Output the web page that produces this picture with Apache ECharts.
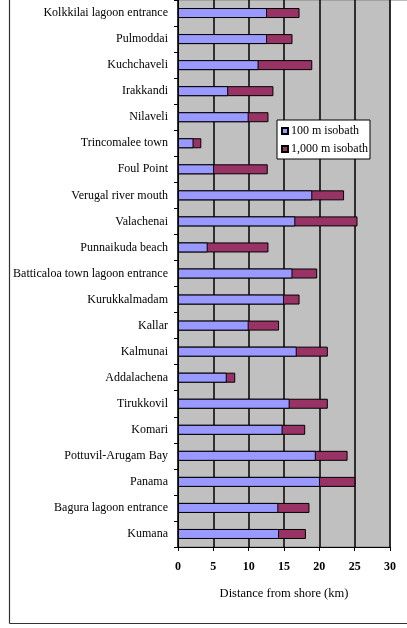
<!DOCTYPE html>
<html><head><meta charset="utf-8">
<script src="https://cdn.jsdelivr.net/npm/echarts@6/dist/echarts.min.js"></script>
<style>html,body{margin:0;padding:0;background:#fff}#c{width:407px;height:628px}</style>
</head><body><div id="c"></div>
<script>
const categories = ["Kolkkilai lagoon entrance","Pulmoddai","Kuchchaveli","Irakkandi","Nilaveli","Trincomalee town","Foul Point","Verugal river mouth","Valachenai","Punnaikuda beach","Batticaloa town lagoon entrance","Kurukkalmadam","Kallar","Kalmunai","Addalachena","Tirukkovil","Komari","Pottuvil-Arugam Bay","Panama","Bagura lagoon entrance","Kumana"];
const isobath100 = [12.6,12.6,11.4,7.1,10.0,2.2,5.1,19.0,16.6,4.2,16.2,15.0,10.0,16.8,6.9,15.8,14.8,19.5,20.1,14.2,14.3];
const isobath1000 = [17.2,16.2,19.0,13.5,12.8,3.3,12.7,23.5,25.4,12.8,19.7,17.2,14.3,21.2,8.1,21.2,18.0,24.0,25.1,18.6,18.1];
const xTicks = [0,5,10,15,20,25,30];
const seriesNames = ["100 m isobath","1,000 m isobath"];

const F = '"Liberation Serif","Times New Roman",serif';
const chart = echarts.init(document.getElementById('c'), null, {renderer:'canvas'});
chart.setOption({
  animation:false,
  backgroundColor:'#fff',
  grid:{left:178,right:17,top:0,bottom:81,show:true,backgroundColor:'#c0c0c0',borderColor:'#808080',borderWidth:1},
  legend:{
    data:seriesNames, orient:'vertical', left:277, top:120,
    backgroundColor:'#fff', borderColor:'#000', borderWidth:1, padding:[5,2,4,4],
    itemWidth:6, itemHeight:6, itemGap:6, icon:'rect',
    textStyle:{fontFamily:F,fontSize:12,color:'#000',padding:[0,0,0,-2]}
  },
  xAxis:{
    type:'value', min:xTicks[0], max:xTicks[xTicks.length-1], interval:5,
    axisLine:{show:true,lineStyle:{color:'#000',width:1}},
    axisTick:{show:true,length:4,lineStyle:{color:'#000'}},
    splitLine:{show:true,lineStyle:{color:'#000',width:1.5}},
    axisLabel:{fontFamily:F,fontSize:12,fontWeight:'bold',color:'#000',margin:14},
    name:'Distance from shore (km)', nameLocation:'middle', nameGap:40,
    nameTextStyle:{fontFamily:F,fontSize:12.5,color:'#000'}
  },
  yAxis:{
    type:'category', data:categories, inverse:true,
    axisLine:{show:true,lineStyle:{color:'#000',width:1}},
    axisTick:{show:true,length:4,inside:false,alignWithLabel:false,lineStyle:{color:'#000'}},
    axisLabel:{fontFamily:F,fontSize:12,color:'#000',margin:10}
  },
  series:[
    {name:seriesNames[1], type:'bar', data:isobath1000, barWidth:10, z:2,
     itemStyle:{color:'#993366',borderColor:'#000',borderWidth:1}},
    {name:seriesNames[0], type:'bar', data:isobath100, barWidth:10, barGap:'-100%', z:3,
     itemStyle:{color:'#9999ff',borderColor:'#000',borderWidth:1}}
  ],
  graphic:[
    {type:'line',shape:{x1:9.5,y1:0,x2:9.5,y2:623.5},style:{stroke:'#333',lineWidth:1.2},silent:true},
    {type:'line',shape:{x1:9.5,y1:623.5,x2:407,y2:623.5},style:{stroke:'#333',lineWidth:1.2},silent:true},
    {type:'line',shape:{x1:390,y1:0.5,x2:407,y2:0.5},style:{stroke:'#bbb',lineWidth:1},silent:true}
  ]
});
</script></body></html>
